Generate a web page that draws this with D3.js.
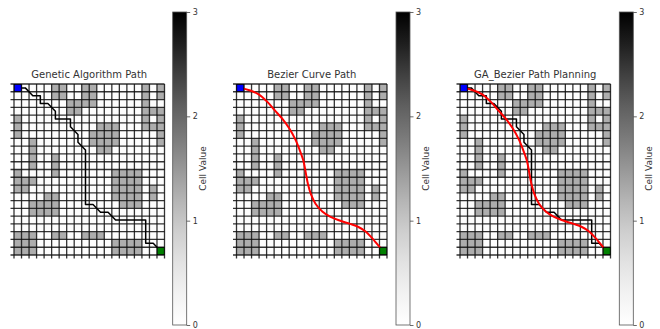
<!DOCTYPE html>
<html><head><meta charset="utf-8">
<script src="https://cdn.jsdelivr.net/npm/d3@7"></script>
<style>html,body{margin:0;padding:0;background:#fff;}svg{display:block;}</style>
</head><body>
<svg id="c" width="660" height="329"></svg>
<script>
const nCols = 20;
const nRows = 22;
// obstacle columns for each row (row 0 = top)
const obstacleRows = [
  [5,6,9,10,17,19],
  [5,6,9,10,17,19],
  [7,8,9,10,17],
  [7,8,17,18,19],
  [0,17,19],
  [0,11,12,13,17,18,19],
  [0,10,11,12,13,19],
  [2,10,11,12,13,19],
  [2,11,12],
  [2,5],
  [2,5],
  [0,5,13,14,15,16],
  [0,1,2,13,14,15,16],
  [0,1,13,14,15,16,18],
  [4,5,13,14,15,16,18],
  [2,3,4,5,14,15,16],
  [2,3,4,5],
  [],
  [],
  [0,1,2,5,6,9,10,11],
  [0,1,2,13,14,15,16],
  [0,1,2,13,14,15,16]
];
const gaPath = [[0,0],[1,0],[2,1],[3,1],[3,2],[4,2],[5,3],[5,4],[6,4],[7,4],[7,5],[8,6],[8,7],[9,8],[9,9],[9,10],[9,11],[9,12],[9,13],[9,14],[9,15],[10,15],[11,16],[12,16],[13,17],[14,17],[15,17],[16,17],[17,17],[17,18],[17,19],[17,20],[18,20],[19,21]];
const bezierPath = [[0,0],[1.2,0.3],[2.4,0.8],[3.6,1.8],[4.6,2.9],[5.6,4.0],[6.5,5.2],[7.3,6.6],[7.9,8.0],[8.4,9.4],[8.7,10.9],[9.0,12.4],[9.4,13.7],[10.0,14.9],[10.9,15.9],[12.0,16.6],[13.3,17.1],[14.6,17.5],[15.7,17.9],[16.7,18.5],[17.5,19.3],[18.2,20.1],[19,21]];
const startCell = [0,0];
const goalCell = [19,21];
const titles = ["Genetic Algorithm Path","Bezier Curve Path","GA_Bezier Path Planning"];
const panelLines = [["ga"],["bezier"],["ga","bezier"]];
const cbTicks = [0,1,2,3];
const cbDomain = [0,3];
const cbLabel = "Cell Value";

const svg = d3.select("#c");
const font = "DejaVu Sans, sans-serif";
const panelX = [14, 236.5, 460];
const gridW = 150.5, gridY = 84, gridH = 171;
const cbX = [172.7, 396, 619.3], cbW = 14, cbTop = 12, cbBot = 325;
const obstacleColor = "#adadad";

const defs = svg.append("defs");
const grad = defs.append("linearGradient").attr("id","greys").attr("x1",0).attr("y1",1).attr("x2",0).attr("y2",0);
d3.range(0,1.0001,0.1).forEach(t=>grad.append("stop").attr("offset",t).attr("stop-color",d3.interpolateGreys(t)));

const cells = [];
for (let r=0;r<nRows;r++) for (let c=0;c<nCols;c++) cells.push({c, r, v: obstacleRows[r].includes(c)?1:0});

panelX.forEach((x0,pi)=>{
  const g = svg.append("g");
  const x = d3.scaleLinear().domain([-0.5,nCols-0.5]).range([x0,x0+gridW]);
  const y = d3.scaleLinear().domain([-0.5,nRows-0.5]).range([gridY,gridY+gridH]);
  const cw = x(1)-x(0), ch = y(1)-y(0);
  g.selectAll("rect.cell").data(cells).join("rect")
    .attr("x",d=>x(d.c-0.5)).attr("y",d=>y(d.r-0.5))
    .attr("width",cw).attr("height",ch)
    .attr("fill",d=>d.v?obstacleColor:"#fdfdfd");
  // grid lines + ticks
  d3.range(nCols+1).forEach(i=>{
    g.append("line").attr("x1",x(i-0.5)).attr("x2",x(i-0.5))
      .attr("y1",gridY).attr("y2",gridY+gridH+3.5)
      .attr("stroke","#111").attr("stroke-width",1.3).attr("stroke-opacity",0.85);
  });
  d3.range(nRows+1).forEach(i=>{
    g.append("line").attr("y1",y(i-0.5)).attr("y2",y(i-0.5))
      .attr("x1",x0-3.5).attr("x2",x0+gridW)
      .attr("stroke","#111").attr("stroke-width",1.3).attr("stroke-opacity",0.85);
  });
  const line = d3.line().x(d=>x(d[0])).y(d=>y(d[1]));
  panelLines[pi].forEach(k=>{
    if (k==="ga") g.append("path").attr("d",line(gaPath)).attr("fill","none").attr("stroke","#000").attr("stroke-width",1.5).attr("stroke-linejoin","round");
    if (k==="bezier") g.append("path").attr("d",d3.line().curve(d3.curveCatmullRom).x(d=>x(d[0])).y(d=>y(d[1]))(bezierPath)).attr("fill","none").attr("stroke","#ff0000").attr("stroke-width",2);
  });
  const ms = 7;
  g.append("rect").attr("x",x(startCell[0])-ms/2).attr("y",y(startCell[1])-ms/2).attr("width",ms).attr("height",ms)
    .attr("fill","#0000ff").attr("stroke","#000").attr("stroke-width",0.8);
  g.append("rect").attr("x",x(goalCell[0])-ms/2).attr("y",y(goalCell[1])-ms/2).attr("width",ms).attr("height",ms)
    .attr("fill","#008000").attr("stroke","#000").attr("stroke-width",0.8);
  g.append("text").attr("x",x0+gridW/2).attr("y",78).attr("text-anchor","middle")
    .attr("font-family",font).attr("font-size",10).attr("fill","#333").text(titles[pi]);

  // colorbar
  const cx = cbX[pi];
  const cy = d3.scaleLinear().domain(cbDomain).range([cbBot,cbTop]);
  g.append("rect").attr("x",cx).attr("y",cbTop).attr("width",cbW).attr("height",cbBot-cbTop)
    .attr("fill","url(#greys)").attr("stroke","#555").attr("stroke-width",0.8);
  const ax = g.append("g").attr("transform",`translate(${cx+cbW},0)`)
    .call(d3.axisRight(cy).tickValues(cbTicks).tickSize(3.5).tickPadding(2.5).tickFormat(d3.format("d")));
  ax.select(".domain").remove();
  ax.selectAll("line").attr("stroke","#444").attr("stroke-width",0.8);
  ax.selectAll("text").attr("font-family",font).attr("font-size",8).attr("fill","#333");
  g.append("text").attr("transform",`translate(${cx+33},${(cbTop+cbBot)/2}) rotate(-90)`)
    .attr("text-anchor","middle").attr("font-family",font).attr("font-size",9).attr("fill","#333").text(cbLabel);
});
</script>
</body></html>
